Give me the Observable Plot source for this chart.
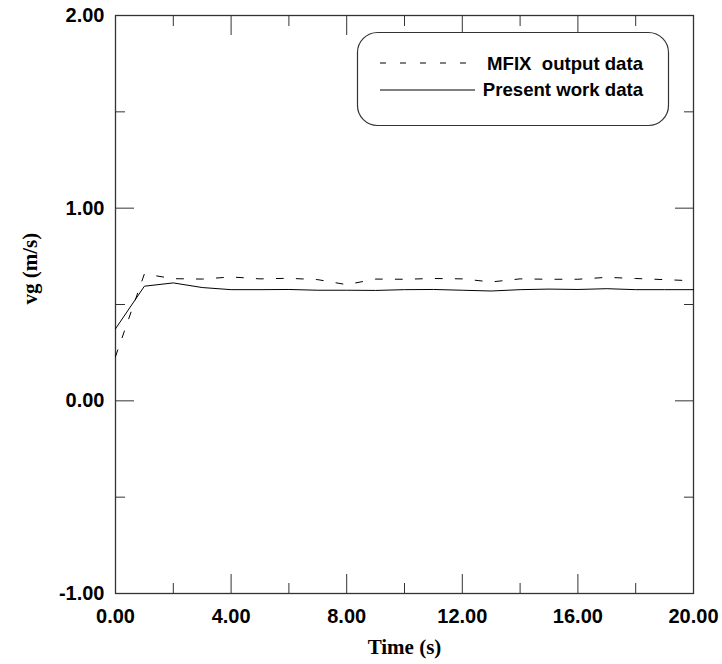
<!DOCTYPE html>
<html><head><meta charset="utf-8">
<script src="https://cdn.jsdelivr.net/npm/d3@7"></script>
<script src="https://cdn.jsdelivr.net/npm/@observablehq/plot@0.6"></script>
<style>
body{margin:0;background:#fff;}
#wrap{position:relative;width:722px;height:664px;}
#legend{position:absolute;left:0;top:0;pointer-events:none;}
</style></head><body><div id="wrap"></div>
<script>
const time = [0,1,2,3,4,5,6,7,8,9,10,11,12,13,14,15,16,17,18,19,20];
const mfixVg = [0.23,0.659,0.634,0.632,0.643,0.633,0.636,0.629,0.603,0.632,0.631,0.635,0.633,0.617,0.633,0.631,0.631,0.641,0.635,0.629,0.623];
const presentVg = [0.374,0.595,0.612,0.588,0.577,0.577,0.578,0.574,0.574,0.573,0.577,0.578,0.574,0.570,0.577,0.580,0.578,0.582,0.577,0.577,0.577];
const xMajor = [0,4,8,12,16,20];
const xMinor = [2,6,10,14,18];
const yMajor = [-1,0,1,2];
const yMinor = [-0.5,0.5,1.5];
const seriesNames = ["MFIX  output data","Present work data"];
const xLabel = "Time (s)";
const yLabel = "vg (m/s)";

const mfixData = time.map((t,i)=>({t, v: mfixVg[i]}));
const presentData = time.map((t,i)=>({t, v: presentVg[i]}));
const fmt = d => d.toFixed(2);
const tickColor = "#333";

const chart = Plot.plot({
  width:722, height:664,
  marginLeft:115, marginRight:29, marginTop:15, marginBottom:71,
  x:{domain:[0,20]}, y:{domain:[-1,2]},
  style:{fontFamily:"'Liberation Sans', Arial, sans-serif", fontSize:"20px", fontWeight:"bold", color:"#000", background:"#fff"},
  marks:[
    Plot.axisX(xMajor,{anchor:"bottom",tickSize:0,tickPadding:15,tickFormat:fmt,label:null,fill:"#000"}),
    Plot.axisY(yMajor,{anchor:"left",tickSize:0,tickPadding:11,tickFormat:fmt,label:null,fill:"#000"}),
    Plot.axisX(xMajor,{anchor:"bottom",tickSize:-19,fill:"none",label:null,stroke:tickColor}),
    Plot.axisX(xMinor,{anchor:"bottom",tickSize:-10,fill:"none",label:null,stroke:tickColor}),
    Plot.axisX(xMajor,{anchor:"top",tickSize:-19,fill:"none",label:null,stroke:tickColor}),
    Plot.axisX(xMinor,{anchor:"top",tickSize:-10,fill:"none",label:null,stroke:tickColor}),
    Plot.axisY(yMajor,{anchor:"left",tickSize:-19,fill:"none",label:null,stroke:tickColor}),
    Plot.axisY(yMinor,{anchor:"left",tickSize:-10,fill:"none",label:null,stroke:tickColor}),
    Plot.axisY(yMajor,{anchor:"right",tickSize:-19,fill:"none",label:null,stroke:tickColor}),
    Plot.axisY(yMinor,{anchor:"right",tickSize:-10,fill:"none",label:null,stroke:tickColor}),
    Plot.frame({stroke:tickColor, strokeWidth:1.3}),
    Plot.line(mfixData,{x:"t",y:"v",stroke:"#000",strokeWidth:1,strokeDasharray:"7,13"}),
    Plot.line(presentData,{x:"t",y:"v",stroke:"#000",strokeWidth:1}),
    Plot.text([xLabel],{frameAnchor:"bottom",dy:60,lineAnchor:"bottom",fontFamily:"'Liberation Serif', 'Times New Roman', serif",fontSize:21,fontWeight:"bold",fill:"#000"}),
    Plot.text([yLabel],{frameAnchor:"left",dx:-85,rotate:-90,lineAnchor:"middle",fontFamily:"'Liberation Serif', 'Times New Roman', serif",fontSize:21,fontWeight:"bold",fill:"#000"})
  ]
});
const wrap = document.getElementById("wrap");
wrap.appendChild(chart);

// legend overlay
const ns = "http://www.w3.org/2000/svg";
const lg = document.createElementNS(ns,"svg");
lg.setAttribute("id","legend");
lg.setAttribute("width","722"); lg.setAttribute("height","664");
lg.innerHTML = `
<rect x="357.5" y="32.5" width="311" height="93" rx="20" ry="20" fill="#fff" stroke="#333" stroke-width="1.2"/>
<line x1="380" x2="475" y1="63" y2="63" stroke="#000" stroke-width="1" stroke-dasharray="6,14"/>
<line x1="380" x2="475" y1="90" y2="90" stroke="#000" stroke-width="1"/>
<text x="643" y="70" text-anchor="end" xml:space="preserve" style="white-space:pre" font-family="'Liberation Sans', Arial, sans-serif" font-weight="bold" font-size="18.6">${seriesNames[0]}</text>
<text x="643" y="96" text-anchor="end" font-family="'Liberation Sans', Arial, sans-serif" font-weight="bold" font-size="18.6">${seriesNames[1]}</text>`;
wrap.appendChild(lg);
</script></body></html>
